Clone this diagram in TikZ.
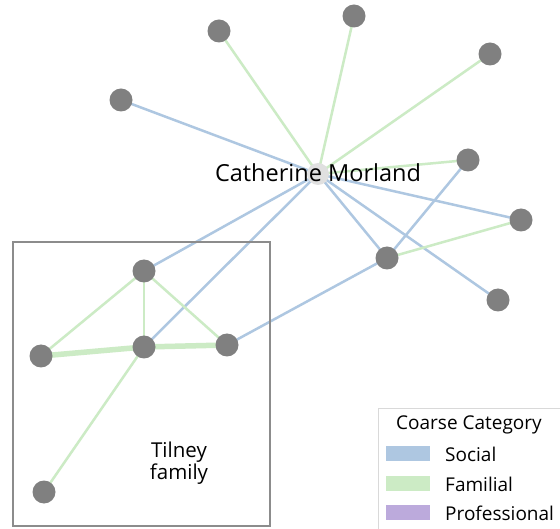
\documentclass[tikz,border=0pt]{standalone}
\usepackage{fontspec}
\setmainfont{Open Sans}
\definecolor{socialc}{HTML}{AEC7E1}
\definecolor{familc}{HTML}{CCEBC5}
\definecolor{profc}{HTML}{BCAADC}
\definecolor{nodec}{HTML}{808080}
\begin{document}
\begin{tikzpicture}[x=1pt,y=-1pt,
  pnode/.style={circle,minimum size=23pt,inner sep=0pt},
  cnode/.style={circle,minimum size=22pt,inner sep=0pt},
  soc/.style={draw=socialc,line width=2.5pt},
  fam/.style={draw=familc,line width=2.5pt},
  famthick/.style={draw=familc,line width=5.5pt},
  swatch/.style={minimum width=44pt,minimum height=15pt,inner sep=0pt},
  legtext/.style={anchor=west,font=\fontsize{19}{21}\selectfont,inner sep=0pt}]
\useasboundingbox (0,0) rectangle (560,529);
\fill[white] (0,0) rectangle (560,529);
% node positions
\node[cnode] (C) at (318,174) {};
\node[pnode] (n1) at (121,100) {};
\node[pnode] (n2) at (219,31) {};
\node[pnode] (n3) at (354,16) {};
\node[pnode] (n4) at (490,54) {};
\node[pnode] (n5) at (468,160) {};
\node[pnode] (n6) at (521,220) {};
\node[pnode] (n7) at (498,300) {};
\node[pnode] (n8) at (387,258) {};
\node[pnode] (t1) at (144,271) {};
\node[pnode] (t2) at (41,356) {};
\node[pnode] (t3) at (227,345) {};
\node[pnode] (t4) at (144,347) {};
\node[pnode] (t5) at (44,492) {};
% edges
\draw[soc] (C.center) -- (n1.center);
\draw[fam] (C.center) -- (n2.center);
\draw[fam] (C.center) -- (n3.center);
\draw[fam] (C.center) -- (n4.center);
\draw[fam] (C.center) -- (n5.center);
\draw[soc] (C.center) -- (n6.center);
\draw[soc] (C.center) -- (n7.center);
\draw[soc] (C.center) -- (n8.center);
\draw[soc] (C.center) -- (t1.center);
\draw[soc] (C.center) -- (t4.center);
\draw[soc] (n5.center) -- (n8.center);
\draw[fam] (n6.center) -- (n8.center);
\draw[soc] (n8.center) -- (t3.center);
\draw[fam] (t1.center) -- (t2.center);
\draw[fam] (t1.center) -- (t3.center);
\draw[fam] (t1.center) -- (t4.center);
\draw[famthick] (t2.center) -- (t4.center);
\draw[famthick] (t4.center) -- (t3.center);
\draw[fam] (t4.center) -- (t5.center);
% node discs on top
\foreach \n in {n1,n2,n3,n4,n5,n6,n7,n8,t1,t2,t3,t4,t5}{
  \fill[nodec] (\n.center) circle (11.5);
}
\fill[black!12] (C.center) circle (11);
\node[font=\fontsize{23.5}{26}\selectfont,inner sep=0pt] (Clab) at (318,173) {Catherine Morland};
% Tilney box
\draw[black!45,line width=1.5pt] (13,242) rectangle (270,526);
\node[font=\fontsize{20.5}{22.5}\selectfont,align=center,inner sep=0pt] (tl) at (179,463) {Tilney\\family};
% legend
\draw[black!15,line width=1pt,fill=white] (378.5,408.5) rectangle (565,535);
\node[font=\fontsize{19}{21}\selectfont,inner sep=0pt] (lt) at (469,425) {Coarse Category};
\node[swatch,fill=socialc] (s1) at (408,453.5) {};
\node[swatch,fill=familc] (s2) at (408,483.5) {};
\node[swatch,fill=profc] (s3) at (408,512.5) {};
\node[legtext] (l1) at (445,454) {Social};
\node[legtext] (l2) at (445,484) {Familial};
\node[legtext] (l3) at (445,513) {Professional};
\end{tikzpicture}
\end{document}
